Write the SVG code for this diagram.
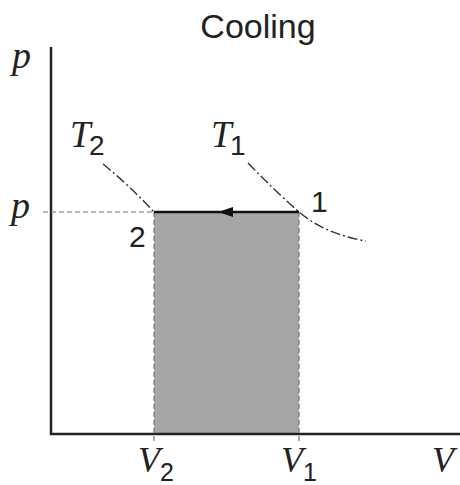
<svg xmlns="http://www.w3.org/2000/svg" width="460" height="485" viewBox="0 0 460 485">
<style>
.ax{stroke:#222;stroke-width:2.5;fill:none}
.dash{stroke:#777;stroke-width:1.2;stroke-dasharray:5,3;fill:none}
.iso{stroke:#333;stroke-width:1.4;stroke-dasharray:10,3,2,3;fill:none}
.it{font-family:"Liberation Serif","Times New Roman",serif;font-style:italic;fill:#222}
.sf{font-family:"Liberation Sans",Arial,sans-serif;fill:#222}
.sub{font-family:"Liberation Sans",Arial,sans-serif;font-style:normal}
</style>
<defs>
<marker id="ah" markerWidth="16" markerHeight="12" refX="15" refY="5" orient="auto" markerUnits="userSpaceOnUse">
<path d="M0,0 L15,5 L0,10 Z" fill="#111"/>
</marker>
</defs>
<rect width="460" height="485" fill="#fff"/>
<g id="area"><rect x="154" y="212" width="145" height="222" fill="#a6a6a6"/></g>
<g id="axes">
<path class="ax" d="M51,47 V434 H460"/>
</g>
<g id="guides">
<path class="dash" d="M43,212 H154"/>
<path class="dash" d="M154,212 V441"/>
<path class="dash" d="M299,212 V441"/>
</g>
<g id="isotherms">
<path class="iso" d="M103,164 Q130,186 154,212"/>
<path class="iso" d="M248,163 Q274,190 299,212 Q325,234 366,241"/>
</g>
<g id="connectors">
<path d="M299,212 H154" stroke="#111" stroke-width="2.5" fill="none"/>
<path d="M240,212 H218" stroke="none" fill="none" marker-end="url(#ah)"/>
</g>
<g id="labels">
<text class="sf" x="258" y="38" font-size="34" text-anchor="middle">Cooling</text>
<text class="it" x="12" y="68" font-size="38">p</text>
<text class="it" x="11" y="218" font-size="38">p</text>
<text class="it" x="70" y="147" font-size="37">T</text>
<text class="sf" x="89" y="155" font-size="28">2</text>
<text class="it" x="211" y="147" font-size="37">T</text>
<text class="sf" x="230" y="155" font-size="28">1</text>
<text class="sf" x="311" y="212" font-size="30">1</text>
<text class="sf" x="129" y="247" font-size="30">2</text>
<text class="it" x="138" y="472" font-size="36">V</text>
<text class="sf" x="160" y="481" font-size="25">2</text>
<text class="it" x="281" y="472" font-size="36">V</text>
<text class="sf" x="303" y="481" font-size="25">1</text>
<text class="it" x="432" y="472" font-size="36">V</text>
</g>
</svg>
